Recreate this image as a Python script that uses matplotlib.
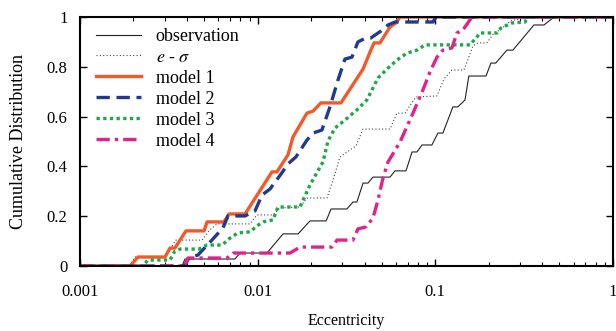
import numpy as np
import matplotlib
matplotlib.use("Agg")
import matplotlib.pyplot as plt
from matplotlib.ticker import FixedLocator, LogLocator, NullFormatter

plt.rcParams['font.family'] = ['Liberation Serif', 'DejaVu Serif']
plt.rcParams['mathtext.fontset'] = 'stix'

# observation
obs_e = [0.001, 0.00375, 0.0039, 0.00745, 0.00796, 0.01128, 0.0139, 0.0169, 0.0197,
         0.0243, 0.0259, 0.0318, 0.0344, 0.0362, 0.0392, 0.0418, 0.0446, 0.0556,
         0.0593, 0.0684, 0.074, 0.0789, 0.0842, 0.0957, 0.1035, 0.1104, 0.1256,
         0.134, 0.147, 0.1545, 0.193, 0.2057, 0.219, 0.253, 0.2735, 0.359, 0.409,
         0.466, 1.0]
obs_cdf = [0, 0, 0.028, 0.028, 0.052, 0.052, 0.129, 0.129, 0.181,
           0.181, 0.229, 0.229, 0.257, 0.257, 0.333, 0.333, 0.357, 0.357,
           0.382, 0.382, 0.458, 0.458, 0.486, 0.486, 0.534, 0.534, 0.639,
           0.639, 0.667, 0.763, 0.763, 0.815, 0.815, 0.867, 0.867, 0.968, 0.968,
           1, 1]

# e - sigma
esig_e = [0.001, 0.00191, 0.00204, 0.00301, 0.00329, 0.00347, 0.00486, 0.00539,
          0.0059, 0.00905, 0.00991, 0.0122, 0.01336, 0.0173, 0.01895, 0.02456,
          0.02655, 0.0291, 0.0331, 0.03576, 0.0392, 0.0556, 0.0608, 0.0675,
          0.0778, 0.1022, 0.1119, 0.1241, 0.145, 0.163, 0.1739, 0.1953, 0.2139,
          0.2312, 0.27, 0.2881, 0.3114, 1.0]
esig_cdf = [0, 0, 0.036, 0.036, 0.080, 0.104, 0.104, 0.145,
            0.169, 0.169, 0.205, 0.205, 0.233, 0.237, 0.273, 0.273,
            0.345, 0.438, 0.466, 0.482, 0.55, 0.55, 0.614, 0.614,
            0.679, 0.683, 0.751, 0.787, 0.787, 0.884, 0.896, 0.896, 0.936,
            0.948, 0.988, 0.988, 1, 1]

# model 1
m1_e = [0.001, 0.00191, 0.00212, 0.00301, 0.00321, 0.00342, 0.00395, 0.00499,
        0.00519, 0.00646, 0.0069, 0.00849, 0.01204, 0.01284, 0.01481, 0.0158,
        0.01895, 0.0205, 0.0227, 0.02944, 0.0392, 0.0429, 0.0452, 0.0488,
        0.0556, 0.06, 0.0633, 1.0]
m1_cdf = [0, 0, 0.036, 0.036, 0.072, 0.072, 0.141, 0.141,
          0.177, 0.177, 0.209, 0.209, 0.378, 0.378, 0.446, 0.518,
          0.614, 0.622, 0.655, 0.655, 0.791, 0.859, 0.896, 0.896,
          0.960, 0.976, 1, 1]

# model 2
m2_e = [0.001, 0.00385, 0.00411, 0.00461, 0.00546, 0.00638, 0.00681, 0.00849,
        0.00966, 0.01058, 0.01173, 0.01353, 0.01481, 0.01643, 0.01895, 0.0205,
        0.023, 0.02553, 0.02833, 0.031, 0.03396, 0.0367, 0.0407, 0.0434, 0.0495,
        0.0542, 0.0593, 0.097, 0.1009, 1.0]
m2_cdf = [0, 0, 0.032, 0.044, 0.1, 0.153, 0.201, 0.201,
          0.221, 0.285, 0.309, 0.369, 0.41, 0.438, 0.506, 0.534,
          0.546, 0.639, 0.747, 0.831, 0.839, 0.9, 0.916, 0.916, 0.944,
          0.968, 0.98, 0.98, 1, 1]

# model 3
m3_e = [0.001, 0.00226, 0.00241, 0.00321, 0.00342, 0.00365, 0.00467, 0.00519,
        0.0063, 0.00699, 0.00775, 0.00905, 0.00991, 0.01072, 0.0122, 0.01301,
        0.0173, 0.0197, 0.02332, 0.02488, 0.02724, 0.031, 0.0362, 0.0412,
        0.04757, 0.0542, 0.0608, 0.0693, 0.0789, 0.0875, 0.1567, 0.1716,
        0.1784, 0.2224, 0.2342, 0.27, 0.3197, 0.3323, 1.0]
m3_cdf = [0, 0, 0.024, 0.024, 0.060, 0.068, 0.068, 0.084,
          0.084, 0.112, 0.133, 0.137, 0.161, 0.177, 0.185, 0.237,
          0.237, 0.325, 0.418, 0.502, 0.554, 0.586, 0.627, 0.667,
          0.755, 0.795, 0.827, 0.855, 0.867, 0.888, 0.888, 0.920,
          0.936, 0.936, 0.956, 0.976, 0.98, 1, 1]

# model 4
m4_e = [0.001, 0.0039, 0.00405, 0.00672, 0.00727, 0.0152, 0.0173, 0.0262,
        0.02796, 0.0344, 0.0367, 0.0407, 0.0446, 0.04757, 0.05075, 0.0542,
        0.0633, 0.0749, 0.0852, 0.0933, 0.1022, 0.1104, 0.1241, 0.1324,
        0.1431, 0.1608, 1.0]
m4_cdf = [0, 0, 0.032, 0.032, 0.052, 0.052, 0.076, 0.076,
          0.104, 0.104, 0.149, 0.157, 0.193, 0.265, 0.353, 0.418,
          0.498, 0.614, 0.707, 0.779, 0.839, 0.867, 0.876, 0.936,
          0.948, 1, 1]

fig = plt.figure(figsize=(6.16, 3.31), dpi=100)
ax = fig.add_axes([0.1299, 0.1964, 0.8651, 0.7522])

ax.plot(obs_e, obs_cdf, color='#222222', lw=0.8, label='observation')
ax.plot(esig_e, esig_cdf, color='#444444', lw=0.8, ls=(0, (1, 2)), label=r'$e$ - $\sigma$')
ax.plot(m1_e, m1_cdf, color='#f15a29', lw=2.4, label='model 1')
ax.plot(m2_e, m2_cdf, color='#203a8f', lw=2.4, ls=(0, (4, 2)), label='model 2')
ax.plot(m3_e, m3_cdf, color='#1ea84a', lw=2.4, ls=(0, (1, 1)), label='model 3')
ax.plot(m4_e, m4_cdf, color='#e2228c', lw=2.4, ls=(0, (4, 1.5, 1, 1.5)), label='model 4')

ax.set_xscale('log')
ax.set_xlim(0.001, 1)
ax.set_ylim(0, 1)
ax.xaxis.set_major_locator(FixedLocator([0.001, 0.01, 0.1, 1]))
ax.set_xticklabels(['0.001', '0.01', '0.1', '1'])
ax.xaxis.set_minor_locator(LogLocator(base=10, subs=np.arange(2, 10)))
ax.xaxis.set_minor_formatter(NullFormatter())
ax.set_yticks([0, 0.2, 0.4, 0.6, 0.8, 1])
ax.set_yticklabels(['0', '0.2', '0.4', '0.6', '0.8', '1'])

ax.tick_params(which='both', direction='in', top=True, right=True, labelsize=12)
ax.tick_params(which='major', length=5, width=1)
ax.tick_params(which='minor', length=3, width=0.8)
ax.tick_params(axis='x', which='major', pad=13)
ax.tick_params(axis='y', which='major', pad=9)
for s in ax.spines.values():
    s.set_linewidth(1.5)

ax.set_xlabel('Eccentricity', fontsize=11.5, labelpad=9)
ax.set_ylabel('Cumulative Distribution', fontsize=13, labelpad=14)

ax.legend(loc='upper left', frameon=False, fontsize=13, handlelength=2.5,
          handletextpad=0.8, labelspacing=0.22, borderaxespad=0.2,
          bbox_to_anchor=(0.01, 1.0))

fig.savefig('out.png', dpi=100)
